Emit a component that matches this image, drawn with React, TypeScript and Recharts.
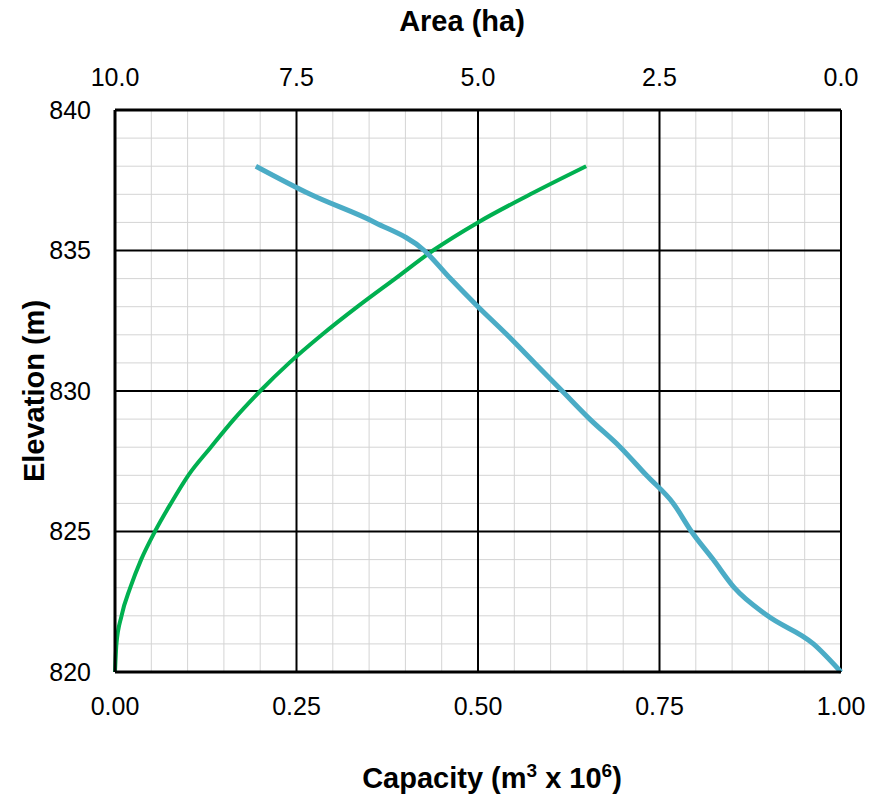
import React from "react";
import { LineChart, Line, XAxis, YAxis, CartesianGrid, Label } from "recharts";

const elevation = [820, 821, 822, 823, 824, 825, 826, 827, 828, 829, 830, 831, 832, 833, 834, 835, 836, 837, 838];
const capacity = [0, 0.002, 0.009, 0.021, 0.036, 0.055, 0.077, 0.101, 0.132, 0.164, 0.2, 0.24, 0.285, 0.334, 0.386, 0.438, 0.5, 0.572, 0.649];
const area = [0, 0.38, 1.01, 1.47, 1.76, 2.06, 2.31, 2.68, 3.04, 3.46, 3.84, 4.22, 4.6, 5.0, 5.38, 5.74, 6.42, 7.31, 8.06];

const capTicks = [0, 0.25, 0.5, 0.75, 1];
const areaTicks = [0, 2.5, 5, 7.5, 10];
const elevTicks = [820, 825, 830, 835, 840];
const minorCap: number[] = [];
for (let i = 0; i <= 20; i++) minorCap.push(Math.round(i * 5) / 100);
const minorElev: number[] = [];
for (let e = 820; e <= 840; e++) minorElev.push(e);

const data = elevation.map((e, i) => ({ elev: e, cap: capacity[i], area: area[i] }));
const areaData = [...data].reverse();

const FONT = "'Liberation Sans', Arial, sans-serif";
const tickStyle = { fontSize: 25, fill: "#000", fontFamily: FONT };

const AreaLabel = (props: any) => {
  const vb = props.viewBox || {};
  const cx = vb.x + vb.width / 2 - 16;
  const y = vb.y - 39;
  return (
    <text x={cx} y={y} textAnchor="middle" fontFamily={FONT} fontWeight="bold" fontSize={29} fill="#000">
      Area (ha)
    </text>
  );
};

const CapacityLabel = (props: any) => {
  const vb = props.viewBox || {};
  const cx = vb.x + vb.width / 2 + 14;
  const y = vb.y + vb.height + 76;
  return (
    <text x={cx} y={y} textAnchor="middle" fontFamily={FONT} fontWeight="bold" fontSize={29} fill="#000">
      <tspan>Capacity (m</tspan>
      <tspan dy={-11} fontSize={19}>3</tspan>
      <tspan dy={11}> x 10</tspan>
      <tspan dy={-11} fontSize={19}>6</tspan>
      <tspan dy={11}>)</tspan>
    </text>
  );
};

const ElevationLabel = (props: any) => {
  const vb = props.viewBox || {};
  const x = vb.x - 11.5;
  const y = vb.y + vb.height / 2;
  return (
    <text
      x={x}
      y={y}
      transform={`rotate(-90 ${x} ${y})`}
      textAnchor="middle"
      fontFamily={FONT}
      fontWeight="bold"
      fontSize={29}
      fill="#000"
    >
      Elevation (m)
    </text>
  );
};

export default function App() {
  return (
    <div style={{ width: 888, height: 797, marginTop: -8, marginLeft: -8 }}>
      <LineChart
        width={888}
        height={797}
        data={data}
        margin={{ top: 70, right: 47, bottom: 85, left: 55 }}
      >
        <CartesianGrid
          xAxisId="cap"
          yAxisId="elev"
          verticalValues={minorCap}
          horizontalValues={minorElev}
          stroke="#d4d4d4"
          strokeWidth={1}
        />
        <CartesianGrid
          xAxisId="cap"
          yAxisId="elev"
          verticalValues={capTicks}
          horizontalValues={elevTicks}
          stroke="#000"
          strokeWidth={2}
        />
        <XAxis
          xAxisId="cap"
          dataKey="cap"
          type="number"
          domain={[0, 1]}
          ticks={capTicks}
          tickFormatter={(v: number) => v.toFixed(2)}
          orientation="bottom"
          height={40}
          tick={tickStyle}
          tickLine={false}
          tickSize={0}
          tickMargin={25}
          interval={0}
          axisLine={{ stroke: "#000", strokeWidth: 3 }}
        >
          <Label content={<CapacityLabel />} />
        </XAxis>
        <XAxis
          xAxisId="area"
          dataKey="area"
          type="number"
          domain={[0, 10]}
          reversed
          ticks={areaTicks}
          tickFormatter={(v: number) => v.toFixed(1)}
          orientation="top"
          height={40}
          tick={tickStyle}
          tickLine={false}
          tickSize={0}
          tickMargin={24}
          interval={0}
          axisLine={{ stroke: "#000", strokeWidth: 3 }}
        >
          <Label content={<AreaLabel />} />
        </XAxis>
        <YAxis
          yAxisId="elev"
          dataKey="elev"
          type="number"
          domain={[820, 840]}
          ticks={elevTicks}
          width={60}
          tick={tickStyle}
          tickLine={false}
          tickSize={0}
          tickMargin={24}
          interval={0}
          axisLine={{ stroke: "#000", strokeWidth: 3 }}
        >
          <Label content={<ElevationLabel />} />
        </YAxis>
        <Line
          xAxisId="cap"
          yAxisId="elev"
          dataKey="elev"
          type="monotone"
          stroke="#00B050"
          strokeWidth={4}
          dot={false}
          isAnimationActive={false}
        />
        <Line
          data={areaData}
          xAxisId="area"
          yAxisId="elev"
          dataKey="elev"
          type="monotone"
          stroke="#4BACC6"
          strokeWidth={5}
          dot={false}
          isAnimationActive={false}
        />
      </LineChart>
    </div>
  );
}
